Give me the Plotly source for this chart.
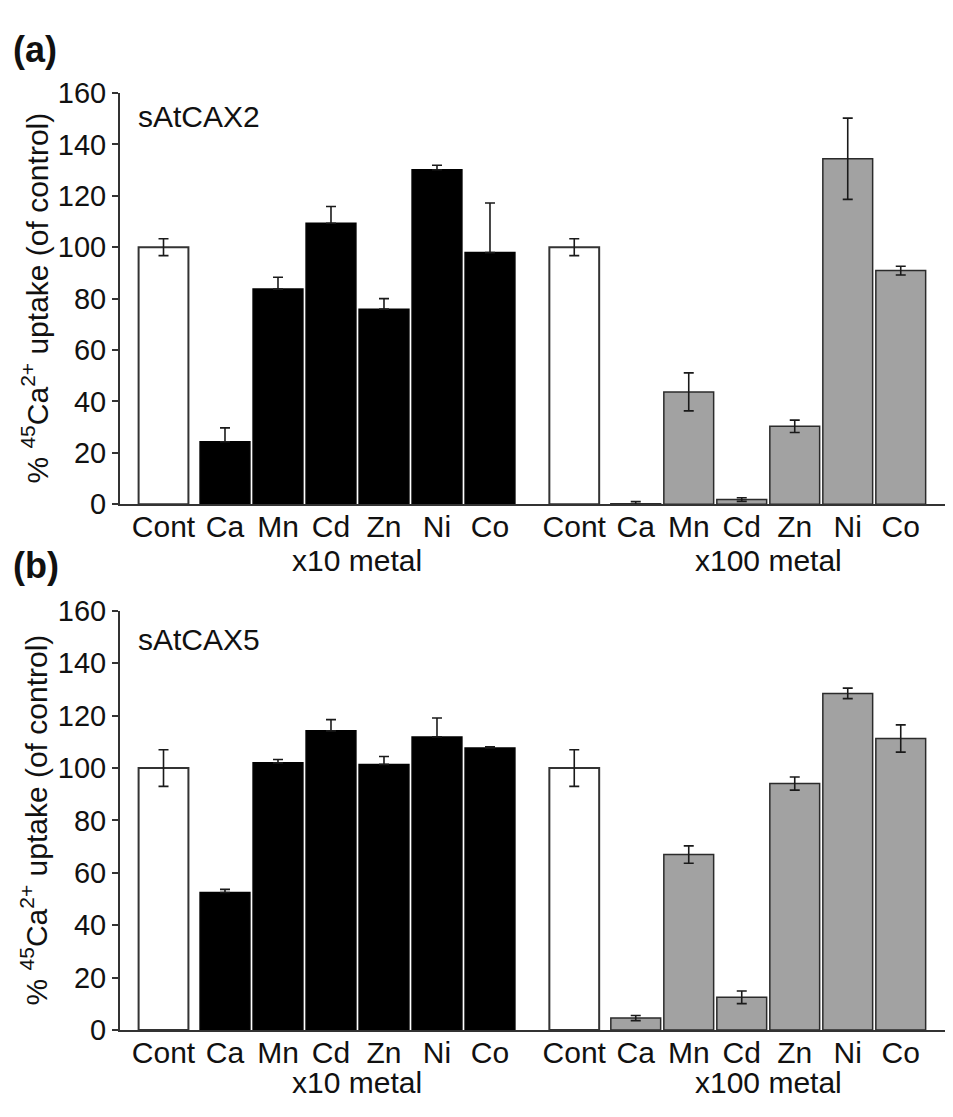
import plotly.graph_objects as go

# ---------------- data ----------------
labels = ["Cont", "Ca", "Mn", "Cd", "Zn", "Ni", "Co"]
group_titles = ["x10 metal", "x100 metal"]
panel_names = ["sAtCAX2", "sAtCAX5"]
panel_tags = ["(a)", "(b)"]

# panel (a) sAtCAX2
a_x10_vals = [100, 24.3, 83.7, 109.3, 75.9, 130.1, 97.9]
a_x10_err = [3.3, 5.4, 4.6, 6.5, 4.1, 1.8, 19.3]
a_x100_vals = [100, 0.2, 43.7, 1.8, 30.3, 134.4, 90.9]
a_x100_err = [3.3, 0.8, 7.4, 0.7, 2.4, 15.8, 1.7]

# panel (b) sAtCAX5
b_x10_vals = [100, 52.5, 102.0, 114.2, 101.4, 111.9, 107.7]
b_x10_err = [7.0, 1.2, 1.3, 4.3, 3.0, 7.2, 0.4]
b_x100_vals = [100, 4.6, 67.0, 12.5, 94.1, 128.5, 111.3]
b_x100_err = [7.0, 1.0, 3.3, 2.4, 2.5, 2.0, 5.2]

panels = [
    (a_x10_vals, a_x10_err, a_x100_vals, a_x100_err),
    (b_x10_vals, b_x10_err, b_x100_vals, b_x100_err),
]

# ---------------- layout helpers ----------------
PAGE_W, PAGE_H = 953, 1117
OFF = 8  # default page body margin around the figure
W, H = PAGE_W - OFF, PAGE_H - OFF
FONT = "Liberation Sans, Arial, Helvetica, sans-serif"
TXT = "#111111"
group_start = [0.0, 7.75]
metal_offset = 1.16
bar_w = 0.94


def px_x(p):
    return (p - OFF) / W


def px_y(p):
    return 1 - (p - OFF) / H


def positions(g):
    s = group_start[g]
    return [s] + [s + metal_offset + i for i in range(len(labels) - 1)]


# page-pixel geometry of each panel (y of 160, y of 0)
panel_px = [(79, 502.5), (612.3, 1044)]

fig = go.Figure()
err_base = dict(type="data", color="#1a1a1a", thickness=1.6, width=5)

for p, (v10, e10, v100, e100) in enumerate(panels):
    xa = "x" if p == 0 else "x2"
    ya = "y" if p == 0 else "y2"
    for g, (vals, errs, fill, line) in enumerate([
        (v10, e10, "#000000", "#000000"),
        (v100, e100, "#a2a2a2", "#2b2b2b"),
    ]):
        xs = positions(g)
        # control bar (white)
        fig.add_trace(go.Bar(
            x=[xs[0]], y=[vals[0]], width=bar_w, xaxis=xa, yaxis=ya,
            marker=dict(color="white", line=dict(color="#333333", width=2)),
            error_y=dict(array=[errs[0]], symmetric=True, **err_base),
            showlegend=False,
        ))
        # metal bars
        if g == 0:
            ey = dict(array=errs[1:], arrayminus=[0] * (len(errs) - 1),
                      symmetric=False, **err_base)
        else:
            ey = dict(array=errs[1:], symmetric=True, **err_base)
        fig.add_trace(go.Bar(
            x=xs[1:], y=vals[1:], width=bar_w, xaxis=xa, yaxis=ya,
            marker=dict(color=fill, line=dict(color=line, width=1.5)),
            error_y=ey, showlegend=False,
        ))

tickvals = positions(0) + positions(1)
ticktext = labels + labels
x_range = [-0.821, 14.896]

axis_common_x = dict(
    range=x_range, domain=[px_x(120), 1], tickvals=tickvals, ticktext=ticktext,
    showline=True, linecolor="#333333", linewidth=2, ticks="", showgrid=False,
    zeroline=False, tickfont=dict(family=FONT, size=30, color=TXT),
    ticklabelstandoff=-5,
)
axis_common_y = dict(
    range=[0, 160], dtick=20, tick0=0, showline=True, linecolor="#333333",
    linewidth=2, ticks="outside", ticklen=6, tickwidth=1.5, tickcolor="#333333",
    showgrid=False, zeroline=False,
    tickfont=dict(family=FONT, size=29, color=TXT),
)


def ydom(p):
    top, bot = panel_px[p]
    return [px_y(bot), px_y(top)]


fig.update_layout(
    width=W, height=H, margin=dict(l=0, r=0, t=0, b=0),
    paper_bgcolor="white", plot_bgcolor="white", barmode="overlay",
    xaxis=dict(anchor="y", **axis_common_x),
    yaxis=dict(anchor="x", domain=ydom(0), **axis_common_y),
    xaxis2=dict(anchor="y2", **axis_common_x),
    yaxis2=dict(anchor="x2", domain=ydom(1), **axis_common_y),
)

ytitle = "% <sup>45</sup>Ca<sup>2+</sup> uptake (of control)"
group_label_px = [560, 1098]
tag_px = [34, 566]
name_px = [103, 641.7]

for p in range(2):
    xa = "x" if p == 0 else "x2"
    d = ydom(p)
    # y-axis title
    fig.add_annotation(
        text=ytitle, xref="paper", yref="paper", x=px_x(35), y=(d[0] + d[1]) / 2,
        xanchor="center", yanchor="middle", textangle=-90, showarrow=False,
        font=dict(family=FONT, size=30, color=TXT),
    )
    # panel tag
    fig.add_annotation(
        text="<b>" + panel_tags[p] + "</b>", xref="paper", yref="paper",
        x=px_x(11), y=px_y(tag_px[p]), xanchor="left", yanchor="middle",
        showarrow=False, font=dict(family=FONT, size=36, color=TXT),
    )
    # construct name
    fig.add_annotation(
        text=panel_names[p], xref="paper", yref="paper",
        x=px_x(136), y=px_y(name_px[p]), xanchor="left", yanchor="middle",
        showarrow=False, font=dict(family=FONT, size=30, color=TXT),
    )
    # group labels
    for g in range(2):
        xs = positions(g)
        cx = (xs[1] + xs[-1]) / 2
        fig.add_annotation(
            text=group_titles[g], xref=xa, yref="paper", x=cx,
            y=px_y(group_label_px[p]), xanchor="center", yanchor="middle",
            showarrow=False, font=dict(family=FONT, size=30, color=TXT),
        )

fig.write_html("out.html")
